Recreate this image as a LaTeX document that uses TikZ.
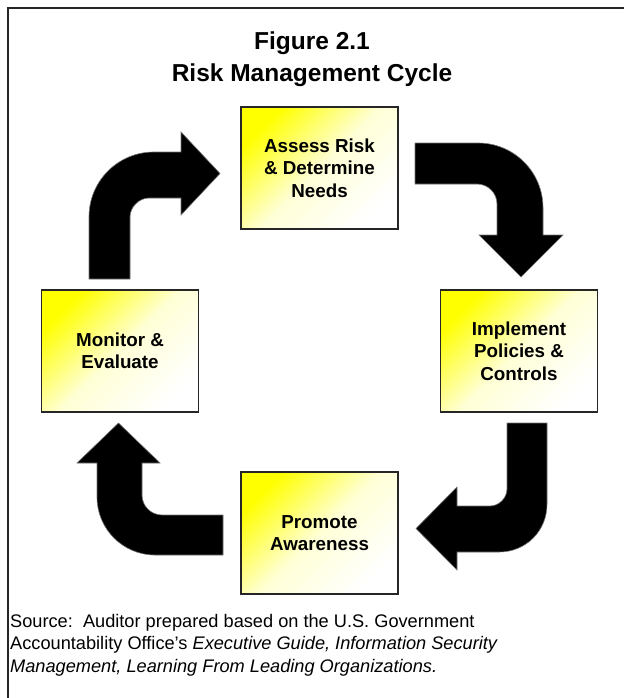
\documentclass[tikz,border=0pt]{standalone}
\usepackage{fontspec}
\setmainfont{Liberation Sans}
\tikzset{
  stage/.style={draw=black!85, line width=1.4pt, minimum width=157pt, minimum height=122pt,
    align=center, font=\fontsize{18.8}{22.5}\selectfont\bfseries,
    top color=yellow, bottom color=white, middle color=yellow!16, shading angle=45},
  bentarrow/.style={fill=black, draw=black!55, line width=0.6pt, line join=miter},
  frameline/.style={draw=black!85, line width=1.6pt}
}
\begin{document}
\begin{tikzpicture}[x=1pt,y=-1pt]
  \useasboundingbox (0,0) rectangle (624,698);
  \draw[frameline] (8,698) -- (8,8) -- (624,8);

  \node[anchor=base, font=\fontsize{24.5}{30}\selectfont\bfseries] (title) at (312,50) {Figure 2.1};
  \node[anchor=base, font=\fontsize{24.5}{30}\selectfont\bfseries] (subtitle) at (312,82) {Risk Management Cycle};

  \node[stage] (assess) at (319.5,168) {Assess Risk\\ \& Determine\\ Needs};
  \node[stage] (implement) at (519,351) {Implement\\ Policies \&\\ Controls};
  \node[stage] (promote) at (319.5,533) {Promote\\ Awareness};
  \node[stage] (monitor) at (120,351) {Monitor \&\\ Evaluate};

  \filldraw[bentarrow] (89,279) -- (89,217) .. controls (89,181) and (118,152) .. (154,152)
    -- (181,152) -- (181,132) -- (220,173.5) -- (181,215) -- (181,198) -- (149,198)
    .. controls (139,198) and (130,207) .. (130,217) -- (130,279) -- cycle;
  \filldraw[bentarrow] (415,143) -- (478,143) .. controls (514,143) and (543,172) .. (543,208)
    -- (543,235) -- (563,235) -- (521,277) -- (479,235) -- (497,235) -- (497,204)
    .. controls (497,193) and (488,184) .. (477,184) -- (415,184) -- cycle;
  \filldraw[bentarrow] (507,423) -- (547,423) -- (547,504) .. controls (547,531) and (526,552) .. (499,552)
    -- (457,552) -- (457,570) -- (416,528.5) -- (457,487) -- (457,506) -- (490,506)
    .. controls (499,506) and (507,498) .. (507,489) -- cycle;
  \filldraw[bentarrow] (223,555) -- (155,555) .. controls (123,555) and (97,529) .. (97,497)
    -- (97,463) -- (77,463) -- (118.5,423) -- (160,463) -- (142,463) -- (142,495)
    .. controls (142,506) and (151,515) .. (162,515) -- (223,515) -- cycle;

  \node[anchor=north west, inner sep=0pt, align=left, font=\fontsize{18.2}{22.5}\selectfont] (source) at (10,614)
    {Source:\ \ Auditor prepared based on the U.S. Government\\
     Accountability Office's \textit{Executive Guide, Information Security}\\
     \textit{Management, Learning From Leading Organizations.}};
\end{tikzpicture}
\end{document}
